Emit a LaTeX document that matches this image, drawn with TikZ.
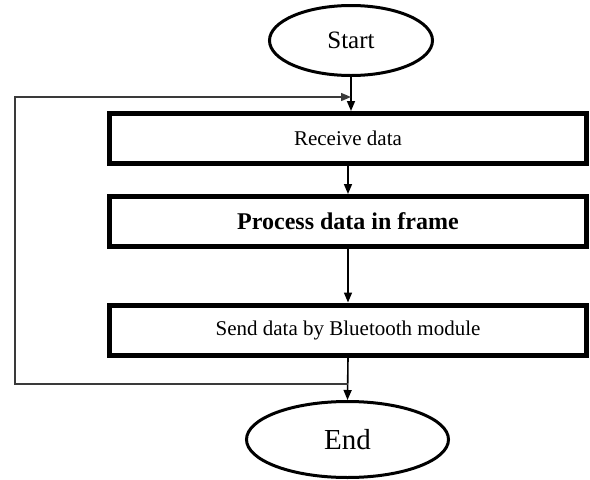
\documentclass[tikz,border=0pt]{standalone}
\usepackage{fontspec}
\setmainfont{Liberation Serif}
\usetikzlibrary{arrows.meta, shapes.geometric}

\begin{document}
\begin{tikzpicture}[x=1pt, y=1pt,
    terminal/.style={ellipse, draw=black, line width=3pt, inner sep=0pt},
    process/.style={rectangle, draw=black, line width=5pt, inner sep=0pt,
        minimum width=477pt, minimum height=50pt, font=\fontsize{21}{21}\selectfont},
    flow/.style={line width=1.6pt, -{Triangle[length=10pt, width=8pt]}},
    feedback/.style={line width=1.4pt, draw=loopColour, -{Triangle[length=10pt, width=8pt]}}]

    % Define colours
    \definecolor{loopColour}{HTML}{3A3A3A}

    % Fix the canvas
    \useasboundingbox (0,0) rectangle (590,-480);

    % Draw the terminals
    \node[terminal, minimum width=163pt, minimum height=70pt] (start) at (351,-40.5)
        {\fontsize{25}{25}\selectfont Start};
    \node[terminal, minimum width=202pt, minimum height=76pt] (stop) at (347.5,-439.5)
        {\fontsize{29}{29}\selectfont End};

    % Draw the process boxes
    \node[process] (recv) at (348,-138.5) {Receive data};
    \node[process, font=\fontsize{24}{24}\selectfont\bfseries] (proc) at (348,-221.5) {Process data in frame};
    \node[process] (send) at (348,-330) {Send data by Bluetooth module};

    % Draw the main flow
    \draw[flow] (start.south) -- (start.south |- recv.north);
    \draw[flow] (recv.south) -- (proc.north);
    \draw[flow] (proc.south) -- (send.north);
    \draw[flow] (send.south) -- (stop.north);

    % Define coordinates for the loop back
    \coordinate (loopin) at (send.south |- 0,-384);
    \coordinate (loopout) at (start.south |- 0,-97);

    % Draw the loop back
    \draw[feedback] (loopin) -- ++(-333,0) |- (loopout);

\end{tikzpicture}
\end{document}
